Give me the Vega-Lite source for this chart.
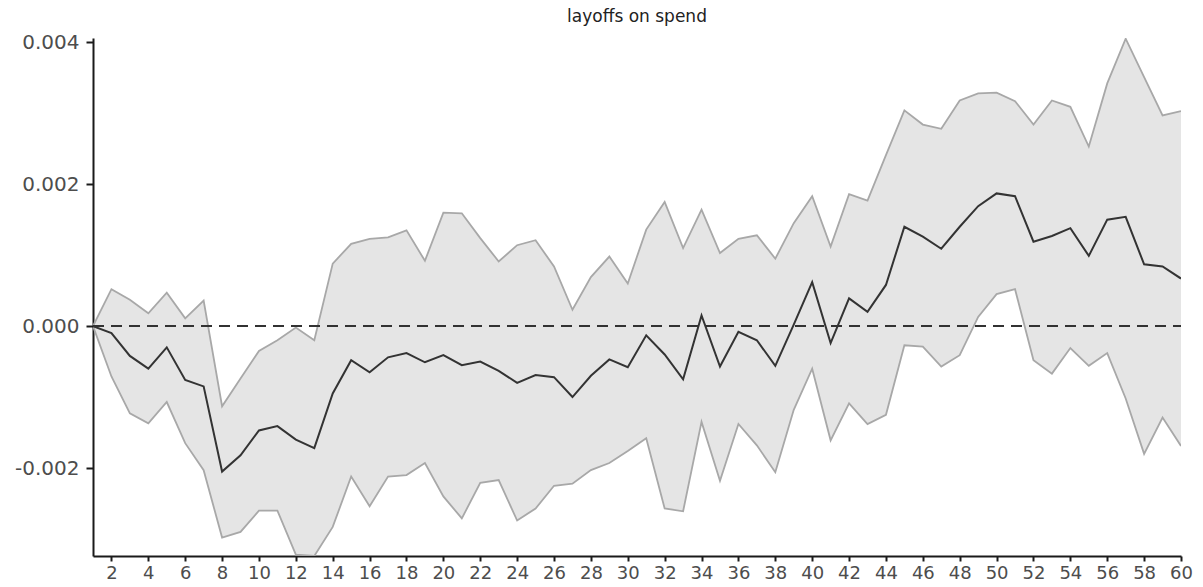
{
  "$schema": "https://vega.github.io/schema/vega-lite/v6.json",
  "autosize": "none",
  "width": 1088,
  "height": 518,
  "padding": {"left": 93, "top": 38, "right": 22, "bottom": 31},
  "background": "white",
  "title": {
    "text": "layoffs on spend",
    "font": "DejaVu Sans",
    "fontSize": 17,
    "fontWeight": "normal",
    "color": "#222222",
    "anchor": "middle",
    "frame": "group",
    "baseline": "alphabetic",
    "offset": 16,
    "dy": 23
  },
  "data": {
    "values": [
      {"t": 1, "est": 0, "lo": 0, "hi": 0},
      {"t": 2, "est": -0.00010, "lo": -0.00071, "hi": 0.00052},
      {"t": 3, "est": -0.00042, "lo": -0.00123, "hi": 0.00037},
      {"t": 4, "est": -0.00060, "lo": -0.00137, "hi": 0.00018},
      {"t": 5, "est": -0.00030, "lo": -0.00107, "hi": 0.00047},
      {"t": 6, "est": -0.00076, "lo": -0.00165, "hi": 0.00011},
      {"t": 7, "est": -0.00085, "lo": -0.00203, "hi": 0.00036},
      {"t": 8, "est": -0.00205, "lo": -0.00298, "hi": -0.00113},
      {"t": 9, "est": -0.00182, "lo": -0.00290, "hi": -0.00074},
      {"t": 10, "est": -0.00147, "lo": -0.00260, "hi": -0.00035},
      {"t": 11, "est": -0.00141, "lo": -0.00260, "hi": -0.00020},
      {"t": 12, "est": -0.00160, "lo": -0.00322, "hi": -0.00002},
      {"t": 13, "est": -0.00172, "lo": -0.00324, "hi": -0.00020},
      {"t": 14, "est": -0.00095, "lo": -0.00283, "hi": 0.00088},
      {"t": 15, "est": -0.00048, "lo": -0.00212, "hi": 0.00116},
      {"t": 16, "est": -0.00065, "lo": -0.00254, "hi": 0.00123},
      {"t": 17, "est": -0.00044, "lo": -0.00212, "hi": 0.00125},
      {"t": 18, "est": -0.00038, "lo": -0.00210, "hi": 0.00135},
      {"t": 19, "est": -0.00051, "lo": -0.00193, "hi": 0.00092},
      {"t": 20, "est": -0.00041, "lo": -0.00240, "hi": 0.00160},
      {"t": 21, "est": -0.00055, "lo": -0.00271, "hi": 0.00159},
      {"t": 22, "est": -0.00050, "lo": -0.00221, "hi": 0.00124},
      {"t": 23, "est": -0.00063, "lo": -0.00217, "hi": 0.00091},
      {"t": 24, "est": -0.00080, "lo": -0.00274, "hi": 0.00114},
      {"t": 25, "est": -0.00069, "lo": -0.00257, "hi": 0.00121},
      {"t": 26, "est": -0.00072, "lo": -0.00225, "hi": 0.00084},
      {"t": 27, "est": -0.00100, "lo": -0.00222, "hi": 0.00023},
      {"t": 28, "est": -0.00070, "lo": -0.00203, "hi": 0.00069},
      {"t": 29, "est": -0.00047, "lo": -0.00193, "hi": 0.00098},
      {"t": 30, "est": -0.00058, "lo": -0.00176, "hi": 0.00060},
      {"t": 31, "est": -0.00013, "lo": -0.00158, "hi": 0.00136},
      {"t": 32, "est": -0.00040, "lo": -0.00257, "hi": 0.00175},
      {"t": 33, "est": -0.00075, "lo": -0.00261, "hi": 0.00110},
      {"t": 34, "est": 0.00015, "lo": -0.00135, "hi": 0.00164},
      {"t": 35, "est": -0.00057, "lo": -0.00218, "hi": 0.00103},
      {"t": 36, "est": -0.00008, "lo": -0.00138, "hi": 0.00123},
      {"t": 37, "est": -0.00020, "lo": -0.00168, "hi": 0.00128},
      {"t": 38, "est": -0.00056, "lo": -0.00206, "hi": 0.00095},
      {"t": 39, "est": 0.00002, "lo": -0.00118, "hi": 0.00145},
      {"t": 40, "est": 0.00062, "lo": -0.00060, "hi": 0.00183},
      {"t": 41, "est": -0.00024, "lo": -0.00161, "hi": 0.00112},
      {"t": 42, "est": 0.00039, "lo": -0.00109, "hi": 0.00186},
      {"t": 43, "est": 0.00020, "lo": -0.00138, "hi": 0.00177},
      {"t": 44, "est": 0.00058, "lo": -0.00125, "hi": 0.00241},
      {"t": 45, "est": 0.00140, "lo": -0.00027, "hi": 0.00304},
      {"t": 46, "est": 0.00126, "lo": -0.00029, "hi": 0.00284},
      {"t": 47, "est": 0.00109, "lo": -0.00057, "hi": 0.00278},
      {"t": 48, "est": 0.00140, "lo": -0.00041, "hi": 0.00318},
      {"t": 49, "est": 0.00169, "lo": 0.00013, "hi": 0.00328},
      {"t": 50, "est": 0.00187, "lo": 0.00045, "hi": 0.00329},
      {"t": 51, "est": 0.00183, "lo": 0.00052, "hi": 0.00317},
      {"t": 52, "est": 0.00119, "lo": -0.00048, "hi": 0.00284},
      {"t": 53, "est": 0.00127, "lo": -0.00067, "hi": 0.00318},
      {"t": 54, "est": 0.00138, "lo": -0.00031, "hi": 0.00309},
      {"t": 55, "est": 0.00099, "lo": -0.00056, "hi": 0.00253},
      {"t": 56, "est": 0.00150, "lo": -0.00038, "hi": 0.00342},
      {"t": 57, "est": 0.00154, "lo": -0.00102, "hi": 0.00405},
      {"t": 58, "est": 0.00087, "lo": -0.00180, "hi": 0.00351},
      {"t": 59, "est": 0.00084, "lo": -0.00129, "hi": 0.00297},
      {"t": 60, "est": 0.00067, "lo": -0.00169, "hi": 0.00303}
    ]
  },
  "encoding": {
    "x": {
      "field": "t",
      "type": "quantitative",
      "scale": {"domain": [1, 60], "nice": false, "zero": false},
      "axis": {
        "title": null,
        "values": [2,4,6,8,10,12,14,16,18,20,22,24,26,28,30,32,34,36,38,40,42,44,46,48,50,52,54,56,58,60],
        "grid": false,
        "domainColor": "#1a1a1a",
        "domainWidth": 2,
        "tickColor": "#1a1a1a",
        "tickWidth": 2,
        "tickSize": 5,
        "labelFont": "DejaVu Sans",
        "labelFontSize": 18,
        "labelColor": "#4d4d4d",
        "labelPadding": 3,
        "labelFlush": false,
        "labelOverlap": false
      }
    }
  },
  "layer": [
    {
      "mark": {"type": "area", "color": "#e5e5e5", "opacity": 1, "clip": true},
      "encoding": {
        "y": {
          "field": "lo",
          "type": "quantitative",
          "scale": {"domain": [-0.00324, 0.00406], "nice": false, "zero": false},
          "axis": {
            "title": null,
            "values": [-0.002, 0, 0.002, 0.004],
            "labelExpr": "replace(format(datum.value, '.3f'), '\u2212', '-')",
            "grid": false,
            "domainColor": "#1a1a1a",
            "domainWidth": 2,
            "tickColor": "#1a1a1a",
            "tickWidth": 2,
            "tickSize": 7,
            "labelFont": "DejaVu Sans",
            "labelFontSize": 20,
            "labelColor": "#4d4d4d",
            "labelPadding": 7
          }
        },
        "y2": {"field": "hi"}
      }
    },
    {
      "mark": {"type": "line", "color": "#a8a8a8", "strokeWidth": 1.8, "clip": true},
      "encoding": {"y": {"field": "hi", "type": "quantitative"}}
    },
    {
      "mark": {"type": "line", "color": "#a8a8a8", "strokeWidth": 1.8, "clip": true},
      "encoding": {"y": {"field": "lo", "type": "quantitative"}}
    },
    {
      "mark": {"type": "rule", "color": "#333333", "strokeWidth": 1.4, "strokeDash": [11, 7]},
      "encoding": {"y": {"datum": 0}, "x": {"value": 0}, "x2": {"value": 1088}}
    },
    {
      "mark": {"type": "line", "color": "#333333", "strokeWidth": 2, "clip": true},
      "encoding": {"y": {"field": "est", "type": "quantitative"}}
    }
  ],
  "config": {
    "view": {"stroke": null}
  }
}
